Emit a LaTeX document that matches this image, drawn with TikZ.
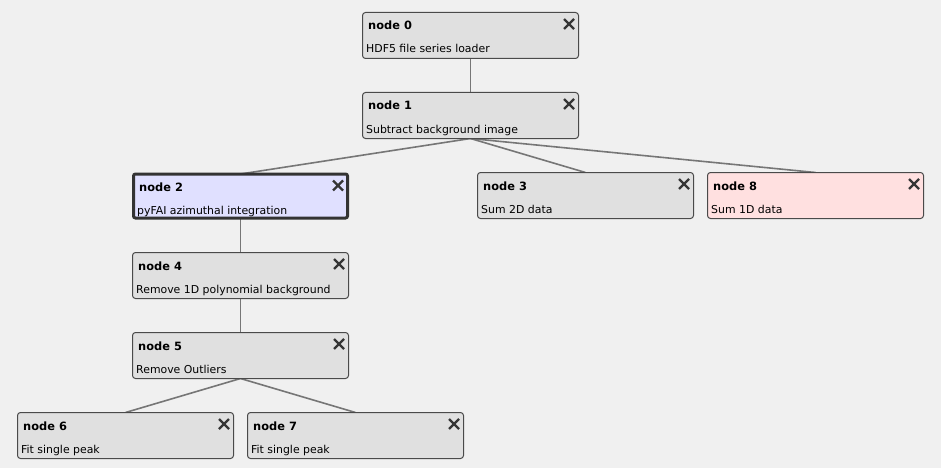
\documentclass[tikz,border=0pt]{standalone}
\usepackage{fontspec}
\setmainfont{DejaVu Sans}
\usetikzlibrary{calc}
\definecolor{bgc}{HTML}{F0F0F0}
\definecolor{boxfill}{HTML}{E0E0E0}
\definecolor{boxline}{HTML}{4A4A4A}
\definecolor{selfill}{HTML}{E0E0FF}
\definecolor{selline}{HTML}{333333}
\definecolor{redfill}{HTML}{FFE0E0}
\definecolor{edgec}{HTML}{767676}
\definecolor{xc}{HTML}{353535}
\pgfdeclarelayer{bg}\pgfdeclarelayer{edges}\pgfsetlayers{bg,edges,main}
\newcommand\flowbox[7]{%
  \node[box,#7] (#1) at (#2,#3) {};
  \node[ttl] (#1t) at ($(#1.north west)+(5.5,17.5)$) {node #5};
  \node[sub] (#1s) at ($(#1.north west)+(3.5,40.5)$) {#6};
  \draw[xmark] ($(#1.north east)+(-14.5,6.5)$) -- ++(10,10)
               ($(#1.north east)+(-4.5,6.5)$) -- ++(-10,10);
}
\begin{document}
\begin{tikzpicture}[x=1pt,y=-1pt,
  box/.style={draw=boxline, fill=boxfill, line width=1pt, rounded corners=3pt,
    minimum width=216pt, minimum height=46pt, anchor=north west, inner sep=0pt, outer sep=0pt},
  selbox/.style={fill=selfill, draw=selline, line width=3pt, rounded corners=2pt},
  redbox/.style={fill=redfill},
  ttl/.style={anchor=base west, inner sep=0pt, font=\fontsize{11.4}{13}\selectfont\bfseries},
  sub/.style={anchor=base west, inner sep=0pt, font=\fontsize{10.9}{12}\selectfont},
  xmark/.style={draw=xc, line width=2.4pt},
  edge/.style={draw=edgec, line width=1.6pt}]
\begin{pgfonlayer}{bg}
\fill[bgc] (0,0) rectangle (941,468);
\end{pgfonlayer}
\useasboundingbox (0,0) rectangle (941,468);
\flowbox{n0}{362.5}{12.5}{}{0}{HDF5 file series loader}{}
\flowbox{n1}{362.5}{92.5}{}{1}{Subtract background image}{}
\flowbox{n2}{133.5}{174}{}{2}{pyFAI azimuthal integration}{selbox, minimum width=214pt, minimum height=44pt}
\flowbox{n3}{477.5}{172.5}{}{3}{Sum 2D data}{}
\flowbox{n8}{707.5}{172.5}{}{8}{Sum 1D data}{redbox}
\flowbox{n4}{132.5}{252.5}{}{4}{Remove 1D polynomial background}{}
\flowbox{n5}{132.5}{332.5}{}{5}{Remove Outliers}{}
\flowbox{n6}{17.5}{412.5}{}{6}{Fit single peak}{}
\flowbox{n7}{247.5}{412.5}{}{7}{Fit single peak}{}
\begin{pgfonlayer}{edges}
\draw[edge] (n0.south) -- (n1.north);
\draw[edge] (n1.south) -- (n2.north);
\draw[edge] (n1.south) -- (n3.north);
\draw[edge] (n1.south) -- (n8.north);
\draw[edge] (n2.south) -- (n4.north);
\draw[edge] (n4.south) -- (n5.north);
\draw[edge] (n5.south) -- (n6.north);
\draw[edge] (n5.south) -- (n7.north);
\end{pgfonlayer}
\end{tikzpicture}
\end{document}
